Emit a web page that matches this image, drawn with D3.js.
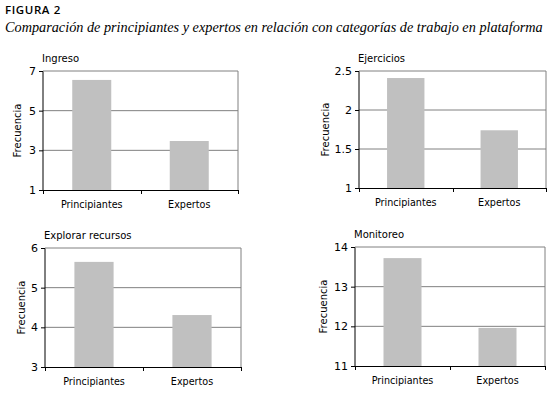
<!DOCTYPE html>
<html>
<head>
    <script src="https://d3js.org/d3.v7.min.js"></script>
    <style>
        body { margin: 0; background: #fff; }
        svg text { font-family: "DejaVu Sans", sans-serif; }
    </style>
</head>
<body>

<script>
// values
const categories = ['Principiantes', 'Expertos'];
const panelTitles = ['Ingreso', 'Ejercicios', 'Explorar recursos', 'Monitoreo'];
const ingreso = [6.55, 3.47];
const ejercicios = [2.41, 1.74];
const explorar = [5.65, 4.31];
const monitoreo = [13.72, 11.96];
const ingresoTicks = [1, 3, 5, 7];
const ejerciciosTicks = [1, 1.5, 2, 2.5];
const explorarTicks = [3, 4, 5, 6];
const monitoreoTicks = [11, 12, 13, 14];

const width = 553, height = 395;

const svg = d3.select('body')
    .append('svg')
    .attr('width', width)
    .attr('height', height);

svg.append('text')
    .attr('x', 5)
    .attr('y', 14)
    .style('font-family', '"Open Sans", sans-serif')
    .style('font-size', '11.5px')
    .style('font-weight', 600)
    .style('letter-spacing', '0.6px')
    .text('FIGURA 2');

const title = svg.append('text')
    .attr('x', 5)
    .attr('y', 32)
    .style('font-family', '"Liberation Serif", serif')
    .style('font-style', 'italic')
    .style('font-size', '16px')
    .text('Comparación de principiantes y expertos en relación con categorías de trabajo en plataforma');
// shrink the font until the line fits the width of the original
const natural = title.node().getComputedTextLength();
if (natural > 538) title.style('font-size', (16 * 538 / natural).toFixed(2) + 'px');

// plot rectangles for each panel
const panels = [
    { title: panelTitles[0], values: ingreso, ticks: ingresoTicks, left: 43, right: 238, top: 71, bottom: 190, ylab: 17 },
    { title: panelTitles[1], values: ejercicios, ticks: ejerciciosTicks, left: 359, right: 546, top: 71, bottom: 188, ylab: 325 },
    { title: panelTitles[2], values: explorar, ticks: explorarTicks, left: 45, right: 241, top: 248, bottom: 367, ylab: 21 },
    { title: panelTitles[3], values: monitoreo, ticks: monitoreoTicks, left: 355, right: 545, top: 247, bottom: 366, ylab: 323 }
];

panels.forEach(p => drawPanel(p));

function drawPanel(p) {
    const g = svg.append('g');

    const x = d3.scaleBand()
        .domain(categories)
        .range([p.left, p.right])
        .paddingInner(0.6)
        .paddingOuter(0.3);

    const y = d3.scaleLinear()
        .domain(d3.extent(p.ticks))
        .range([p.bottom, p.top]);

    // gridlines
    g.selectAll('line.grid')
        .data(p.ticks.slice(1))
        .enter()
        .append('line')
        .attr('class', 'grid')
        .attr('x1', p.left)
        .attr('x2', p.right)
        .attr('y1', d => y(d))
        .attr('y2', d => y(d))
        .attr('stroke', '#808080')
        .attr('stroke-width', 1);

    // right border
    g.append('line')
        .attr('x1', p.right).attr('x2', p.right)
        .attr('y1', p.top).attr('y2', p.bottom)
        .attr('stroke', '#808080');

    // bars
    g.selectAll('rect')
        .data(p.values)
        .enter()
        .append('rect')
        .attr('x', (d, i) => x(categories[i]))
        .attr('y', d => y(d))
        .attr('width', x.bandwidth())
        .attr('height', d => p.bottom - y(d))
        .attr('fill', '#c0c0c0');

    // y axis
    const yAxis = d3.axisLeft(y)
        .tickValues(p.ticks)
        .tickFormat(d => String(d))
        .tickSize(4)
        .tickPadding(3);
    const ya = g.append('g')
        .attr('transform', `translate(${p.left},0)`)
        .call(yAxis);
    ya.select('.domain').attr('d', `M-4,${p.top + 0.5}H0V${p.bottom + 0.5}`);
    ya.selectAll('text').style('font-size', '11px').attr('fill', '#000');

    // x axis: ticks at category boundaries
    const xa = g.append('g')
        .attr('transform', `translate(0,${p.bottom})`);
    xa.append('line')
        .attr('x1', p.left).attr('x2', p.right)
        .attr('y1', 0.5).attr('y2', 0.5)
        .attr('stroke', '#000');
    const bounds = [p.left, (p.left + p.right) / 2, p.right];
    xa.selectAll('line.tick')
        .data(bounds)
        .enter()
        .append('line')
        .attr('class', 'tick')
        .attr('x1', d => Math.round(d) + 0.5)
        .attr('x2', d => Math.round(d) + 0.5)
        .attr('y1', 0)
        .attr('y2', 4)
        .attr('stroke', '#000');
    xa.selectAll('text')
        .data(categories)
        .enter()
        .append('text')
        .attr('x', d => x(d) + x.bandwidth() / 2)
        .attr('y', 18)
        .attr('text-anchor', 'middle')
        .style('font-size', '9.6px')
        .text(d => d);

    // panel title
    g.append('text')
        .attr('x', p.left - 1)
        .attr('y', p.top - 9)
        .style('font-size', '10px')
        .text(p.title);

    // y label
    g.append('text')
        .attr('transform', `translate(${p.ylab + 4},${(p.top + p.bottom) / 2}) rotate(-90)`)
        .attr('text-anchor', 'middle')
        .style('font-size', '10px')
        .text('Frecuencia');
}
</script>

</body>
</html>
